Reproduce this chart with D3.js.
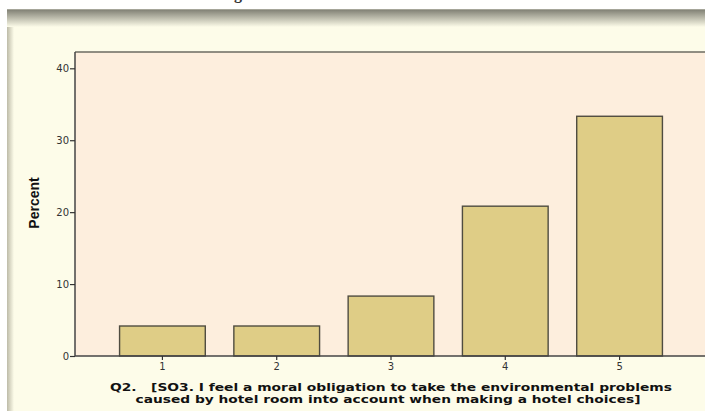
<!DOCTYPE html>
<html>
<head>
<meta charset="utf-8">
<script src="https://cdn.jsdelivr.net/npm/d3@7"></script>
<style>
  body { margin: 0; background: #fff; }
  svg { display: block; }
  .xtitle { white-space: pre; }
</style>
</head>
<body>
<svg id="viz" width="705" height="411"></svg>
<script>
// values (percent per answer)
let categories = ["1", "2", "3", "4", "5"];
let percents = [4.17, 4.17, 8.33, 20.83, 33.33];
let yTicks = [0, 10, 20, 30, 40];
let titleLines = [
	"Q2.   [SO3. I feel a moral obligation to take the environmental problems",
	"caused by hotel room into account when making a hotel choices]"
];

let svg = d3.select('#viz');
let W = 705, H = 411;
let plot = {left: 75, top: 52, right: 707, bottom: 356};

let defs = svg.append('defs');
let topGrad = defs.append('linearGradient').attr('id', 'topGrad')
	.attr('x1', 0).attr('y1', 0).attr('x2', 0).attr('y2', 1);
topGrad.append('stop').attr('offset', '0%').attr('stop-color', '#7c7c70');
topGrad.append('stop').attr('offset', '100%').attr('stop-color', '#fdfce9');
let leftGrad = defs.append('linearGradient').attr('id', 'leftGrad')
	.attr('x1', 0).attr('y1', 0).attr('x2', 1).attr('y2', 0);
leftGrad.append('stop').attr('offset', '0%').attr('stop-color', '#bdbba8');
leftGrad.append('stop').attr('offset', '100%').attr('stop-color', '#fdfce9');

// page background + frame shading
svg.append('rect').attr('x', 7).attr('y', 9).attr('width', W).attr('height', H)
	.attr('fill', '#fdfce9');
svg.append('rect').attr('x', 7).attr('y', 9).attr('width', 7).attr('height', H)
	.attr('fill', 'url(#leftGrad)');
svg.append('rect').attr('x', 7).attr('y', 9).attr('width', W).attr('height', 18)
	.attr('fill', 'url(#topGrad)');
svg.append('line').attr('x1', 7).attr('x2', W).attr('y1', 9.5).attr('y2', 9.5)
	.attr('stroke', '#a6a69a');

// cropped heading above the frame (only a descender shows)
svg.append('text').attr('x', 234).attr('y', -1)
	.attr('font-family', 'Liberation Serif').attr('font-weight', 'bold')
	.attr('font-size', 16).attr('fill', '#333').text('g');

let x = d3.scaleBand()
	.domain(categories)
	.range([plot.left, plot.right])
	.paddingInner(0.25)
	.paddingOuter(0.39);

let y = d3.scaleLinear()
	.domain([0, 40])
	.range([plot.bottom, 68.3]);

// plot area
svg.append('rect')
	.attr('x', plot.left).attr('y', plot.top)
	.attr('width', plot.right - plot.left).attr('height', plot.bottom - plot.top)
	.attr('fill', '#fdeedd');
svg.append('line').attr('x1', plot.left).attr('x2', W)
	.attr('y1', plot.top).attr('y2', plot.top)
	.attr('stroke', '#6b6b60').attr('stroke-width', 1.5);

svg.selectAll('.bar')
	.data(percents)
	.enter()
	.append('rect')
	.attr('class', 'bar')
	.attr('x', (d, i) => x(categories[i]))
	.attr('width', x.bandwidth())
	.attr('y', d => y(d))
	.attr('height', d => y(0) - y(d))
	.attr('fill', '#dfcd86')
	.attr('stroke', '#4f4c40')
	.attr('stroke-width', 1.4);

// axes
let yAxis = svg.append('g')
	.attr('transform', 'translate(' + plot.left + ',0)')
	.call(d3.axisLeft(y).tickValues(yTicks).tickSize(5).tickPadding(1).tickSizeOuter(0));
yAxis.select('.domain').attr('d', 'M0,' + plot.top + 'V' + plot.bottom);

let xAxis = svg.append('g')
	.attr('transform', 'translate(0,' + plot.bottom + ')')
	.call(d3.axisBottom(x).tickSize(4).tickPadding(3).tickSizeOuter(0));
xAxis.select('.domain').attr('d', 'M' + plot.left + ',0H' + W);

svg.selectAll('.tick text')
	.attr('font-family', 'DejaVu Sans, Verdana, sans-serif')
	.attr('font-size', 10)
	.attr('fill', '#333');
svg.selectAll('.tick line').attr('stroke', '#333').attr('stroke-width', 1.2);
svg.selectAll('.domain').attr('stroke', '#444').attr('stroke-width', 1.5);

// axis titles
svg.append('text')
	.attr('transform', 'translate(39,203) rotate(-90)')
	.attr('text-anchor', 'middle')
	.attr('font-family', 'Liberation Sans Narrow, Liberation Sans, Arial, sans-serif')
	.attr('font-weight', 'bold').attr('font-size', 14)
	.attr('fill', '#111')
	.text('Percent');

let titleWidths = [562, 505];
svg.selectAll('.xtitle')
	.data(titleLines)
	.enter()
	.append('text')
	.attr('class', 'xtitle')
	.attr('x', (d, i) => i == 0 ? 391 : 388)
	.attr('y', (d, i) => 391 + i * 11.5)
	.attr('text-anchor', 'middle')
	.attr('textLength', (d, i) => titleWidths[i])
	.attr('lengthAdjust', 'spacingAndGlyphs')
	.attr('font-family', 'DejaVu Sans, Verdana, sans-serif')
	.attr('font-weight', 'bold').attr('font-size', 11)
	.attr('fill', '#111')
	.text(d => d);
</script>
</body>
</html>
